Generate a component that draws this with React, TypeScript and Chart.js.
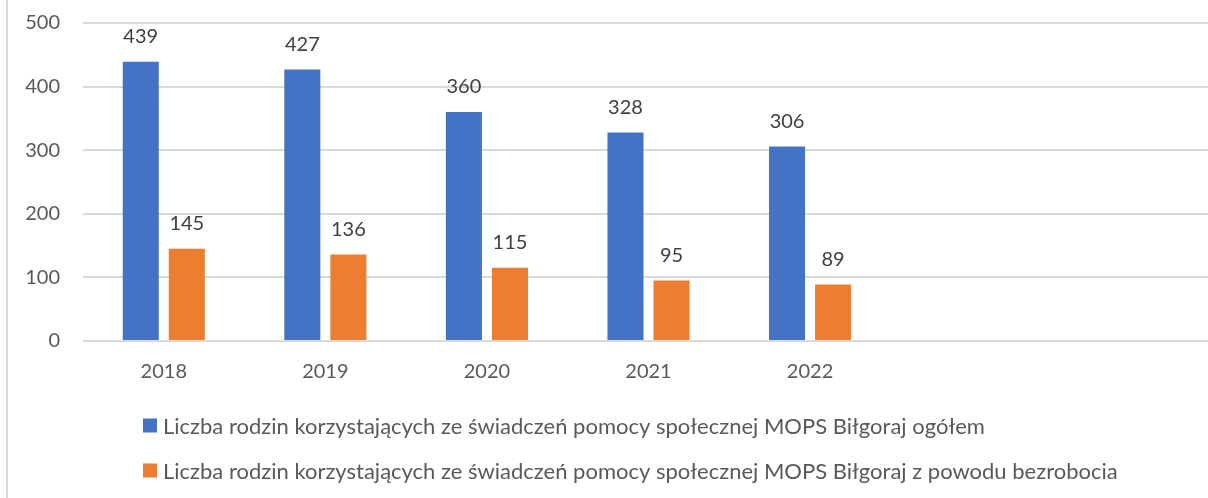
import React, { useEffect, useRef } from 'react';
import { Chart, registerables } from 'chart.js';

Chart.register(...registerables);

const categories = ['2018', '2019', '2020', '2021', '2022', '', ''];
const seriesNames = [
  'Liczba rodzin korzystających ze świadczeń pomocy społecznej MOPS Biłgoraj ogółem',
  'Liczba rodzin korzystających ze świadczeń pomocy społecznej MOPS Biłgoraj z powodu bezrobocia',
];
const totalFamilies = [439, 427, 360, 328, 306, null, null];
const unemploymentFamilies = [145, 136, 115, 95, 89, null, null];
const yMin = 0;
const yMax = 500;
const yStep = 100;

const COLORS = ['#4472C4', '#ED7D31'];
const FONT_FAMILY = 'Lato, "Open Sans", sans-serif';
const FONT_SIZE = 20;
const LEGEND_FONT_SIZE = 22;

const valueLabels = {
  id: 'valueLabels',
  afterDatasetsDraw(chart: any) {
    const ctx = chart.ctx;
    ctx.save();
    ctx.font = `${FONT_SIZE}px ${FONT_FAMILY}`;
    ctx.fillStyle = '#404040';
    ctx.textAlign = 'center';
    ctx.textBaseline = 'middle';
    chart.data.datasets.forEach((ds: any, i: number) => {
      const meta = chart.getDatasetMeta(i);
      meta.data.forEach((bar: any, j: number) => {
        const v = ds.data[j];
        if (v == null) return;
        ctx.fillText(String(v), bar.x, bar.y - 25);
      });
    });
    ctx.restore();
  },
};

const customLegend = {
  id: 'customLegend',
  afterDraw(chart: any) {
    const ctx = chart.ctx;
    ctx.save();
    ctx.font = `${LEGEND_FONT_SIZE}px ${FONT_FAMILY}`;
    ctx.textAlign = 'left';
    ctx.textBaseline = 'middle';
    const rows = [425.5, 470.5];
    chart.data.datasets.forEach((ds: any, i: number) => {
      const cy = rows[i];
      ctx.fillStyle = ds.backgroundColor;
      ctx.fillRect(143, cy - 7, 14, 14);
      ctx.fillStyle = '#595959';
      ctx.fillText(ds.label, 163, cy + 1);
    });
    ctx.restore();
  },
};

export default function App() {
  const canvasRef = useRef<HTMLCanvasElement | null>(null);

  useEffect(() => {
    if (!canvasRef.current) return;
    const chart = new Chart(canvasRef.current, {
      type: 'bar',
      data: {
        labels: categories,
        datasets: [
          {
            label: seriesNames[0],
            data: totalFamilies,
            backgroundColor: COLORS[0],
            categoryPercentage: 0.57,
            barPercentage: 0.7826,
          },
          {
            label: seriesNames[1],
            data: unemploymentFamilies,
            backgroundColor: COLORS[1],
            categoryPercentage: 0.57,
            barPercentage: 0.7826,
          },
        ],
      },
      options: {
        animation: false,
        responsive: true,
        maintainAspectRatio: false,
        layout: { autoPadding: false, padding: { top: 23, bottom: 107, left: 0, right: 0 } },
        plugins: {
          legend: { display: false },
          tooltip: { enabled: false },
        },
        scales: {
          x: {
            grid: { display: false },
            border: { display: false },
            ticks: {
              color: '#595959',
              font: { family: FONT_FAMILY, size: FONT_SIZE },
              padding: 11,
              maxRotation: 0,
              autoSkip: false,
            },
            afterFit(scale: any) {
              scale.height = 50;
            },
          },
          y: {
            min: yMin,
            max: yMax,
            grid: {
              color: '#d9d9d9',
              lineWidth: 2,
              drawTicks: true,
              tickLength: 23,
              tickColor: 'rgba(0,0,0,0)',
            },
            border: { display: false },
            ticks: {
              stepSize: yStep,
              color: '#595959',
              font: { family: FONT_FAMILY, size: FONT_SIZE },
              padding: 0,
            },
            afterFit(scale: any) {
              scale.width = 83;
            },
          },
        },
      },
      plugins: [valueLabels, customLegend],
    });
    return () => chart.destroy();
  }, []);

  return (
    <div
      style={{
        position: 'absolute',
        left: 0,
        top: 0,
        width: 1208,
        height: 498,
        overflow: 'hidden',
        background: '#ffffff',
      }}
    >
      <div style={{ position: 'absolute', left: 0, top: 0, width: 1214, height: 498 }}>
        <canvas ref={canvasRef} />
      </div>
      <div
        style={{
          position: 'absolute',
          left: 6,
          top: 0,
          width: 2,
          height: 498,
          background: '#d9d9d9',
        }}
      />
    </div>
  );
}
